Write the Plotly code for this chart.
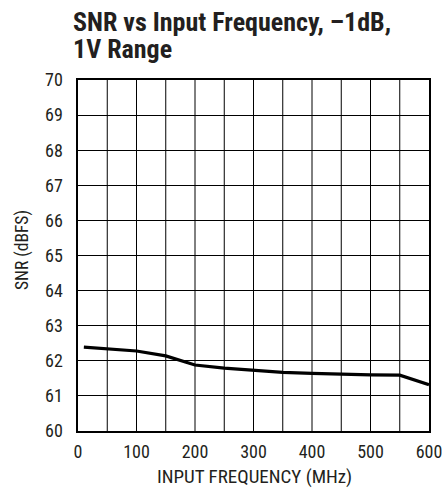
import plotly.graph_objects as go

freq_mhz = [10, 50, 100, 150, 200, 250, 300, 350, 400, 450, 500, 550, 600]
snr_dbfs = [62.39, 62.35, 62.28, 62.14, 61.88, 61.79, 61.73, 61.67, 61.64, 61.61, 61.60, 61.59, 61.32]

x_ticks = [0, 100, 200, 300, 400, 500, 600]
y_ticks = [60, 61, 62, 63, 64, 65, 66, 67, 68, 69, 70]

FONT = "Roboto Condensed, Liberation Sans Narrow, Arial Narrow, sans-serif"
INK = "#231f20"

W, H = 444, 489
ml, mt = 78, 80
mr = W - 429
mb = H - 431
pw = W - ml - mr
ph = H - mt - mb


def px_x(page_x):
    return (page_x - ml) / pw


def px_y(page_y):
    return 1 - (page_y - mt) / ph


fig = go.Figure()
fig.add_trace(go.Scatter(x=freq_mhz, y=snr_dbfs, mode="lines",
                         line=dict(color="black", width=3.2), showlegend=False,
                         hoverinfo="skip"))

fig.update_layout(
    width=W, height=H,
    margin=dict(l=ml, r=mr, t=mt, b=mb, autoexpand=False),
    paper_bgcolor="white", plot_bgcolor="white",
    font=dict(family=FONT, color=INK),
    hovermode=False,
    xaxis=dict(range=[0, 600], tickvals=x_ticks, ticktext=[str(v) for v in x_ticks],
               showgrid=False, zeroline=False, automargin=False, ticklabeloverflow="allow",
               showline=True, linecolor="black", linewidth=1.6, mirror=True,
               ticks="", ticklabelstandoff=4, tickfont=dict(size=18, family=FONT, color=INK)),
    yaxis=dict(range=[60, 70], tickvals=y_ticks, showgrid=True, gridcolor="black", gridwidth=1,
               zeroline=False, showline=True, linecolor="black", linewidth=1.6, mirror=True,
               automargin=False, ticklabeloverflow="allow",
               ticks="", ticklabelstandoff=10, tickfont=dict(size=18, family=FONT, color=INK)),
)

# vertical grid lines every 50 MHz
for xv in range(50, 600, 50):
    fig.add_shape(type="line", xref="x", yref="paper", x0=xv, x1=xv, y0=0, y1=1,
                  line=dict(color="black", width=1), layer="below")

# title (two lines)
fig.add_annotation(text="<b>SNR vs Input Frequency, –1dB,</b>", xref="paper", yref="paper",
                   x=px_x(71), y=px_y(22), xanchor="left", yanchor="middle",
                   showarrow=False, font=dict(size=26, family=FONT, color=INK))
fig.add_annotation(text="<b>1V Range</b>", xref="paper", yref="paper",
                   x=px_x(71), y=px_y(49), xanchor="left", yanchor="middle",
                   showarrow=False, font=dict(size=26, family=FONT, color=INK))

# axis titles
fig.add_annotation(text="INPUT FREQUENCY (MHz)", xref="paper", yref="paper",
                   x=px_x(254), y=px_y(476), xanchor="center", yanchor="middle",
                   showarrow=False, font=dict(size=19, family=FONT, color=INK))
fig.add_annotation(text="SNR (dBFS)", xref="paper", yref="paper",
                   x=px_x(22), y=px_y(250), xanchor="center", yanchor="middle",
                   textangle=-90, showarrow=False, font=dict(size=17.5, family=FONT, color=INK))

fig.write_html(
    "out.html",
    config={"displayModeBar": False, "staticPlot": True},
    post_script="document.body.style.margin='0';document.documentElement.style.overflow='hidden';",
)
